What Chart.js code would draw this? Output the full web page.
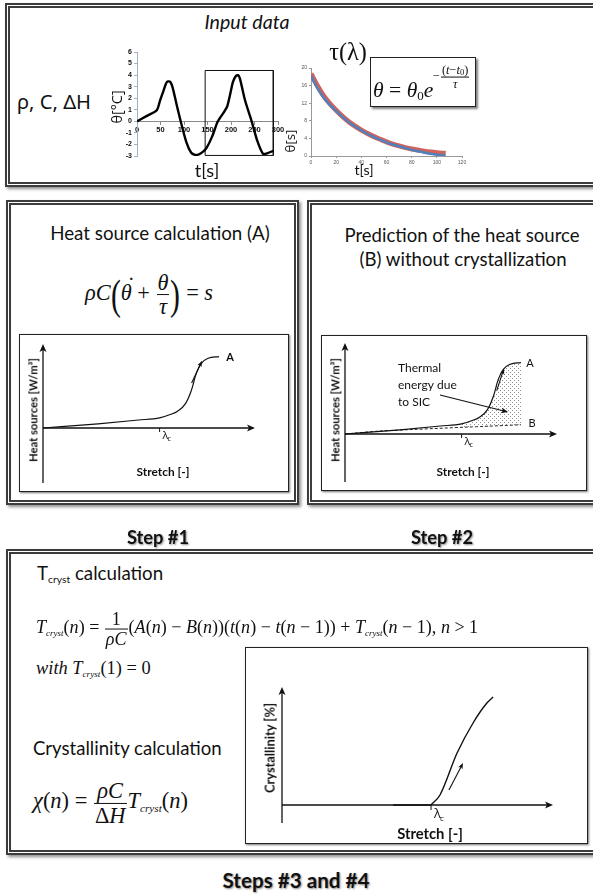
<!DOCTYPE html>
<html><head><meta charset="utf-8">
<script src="https://cdn.jsdelivr.net/npm/chart.js@4.4.1/dist/chart.umd.min.js"></script>
<style>
html,body{margin:0;padding:0;background:#fff;}
body{width:593px;height:894px;position:relative;overflow:hidden;font-family:Lato,"Noto Sans",sans-serif;color:#111;}
.box{position:absolute;border:5px double #3c3c3c;box-shadow:2px 2px 3px rgba(0,0,0,.45);box-sizing:border-box;background:#fff;}
.pane{position:absolute;border:1px solid #222;box-shadow:1px 1px 2px rgba(0,0,0,.55);background:#fff;box-sizing:border-box;}
.pane canvas{left:0;top:0;}
.c{position:absolute;transform:translate(-50%,-50%);white-space:nowrap;line-height:1;z-index:5;}
.l{position:absolute;transform:translateY(-50%);white-space:nowrap;line-height:1;z-index:5;}
.c.rot{transform:translate(-50%,-50%) rotate(-90deg);}
canvas{position:absolute;}
.m{font-family:"Liberation Serif","DejaVu Serif",serif;}
.m i{font-style:italic;}
.frac{display:inline-flex;flex-direction:column;vertical-align:middle;text-align:center;margin:0 1px;}
.frac>span{display:block;padding:0 1px;line-height:1.05;}
.frac>span:first-child{border-bottom:1px solid #111;}
.cr{font-size:0.5em;font-style:italic;vertical-align:-0.3em;line-height:0;}
.bp{display:inline-block;font-size:1.9em;vertical-align:middle;line-height:1;transform:scaleX(0.7);margin:0 -2px;}
.dotted{position:relative;display:inline-block;}
.dotted .dt{position:absolute;left:0.3em;top:-0.32em;font-style:normal;}
.step{font-weight:bold;text-shadow:1px 1px 2px rgba(0,0,0,.45);}
.ax{font-weight:bold;}
.fbox{position:absolute;left:370px;top:57px;width:106px;height:50px;border:1.5px solid #222;box-shadow:2px 2px 2px rgba(0,0,0,.5);background:#fff;box-sizing:border-box;z-index:4;}
</style>
</head>
<body>
<!-- frames -->
<div class="box" style="left:5px;top:3px;width:600px;height:184px;"></div>
<div class="box" style="left:6px;top:200px;width:293px;height:305px;"></div>
<div class="box" style="left:307px;top:200px;width:300px;height:305px;"></div>
<div class="box" style="left:6px;top:549px;width:600px;height:306px;"></div>

<!-- input data panel -->
<div class="c" data-w="85" style="left:247px;top:22px;font-size:18px;font-style:italic;">Input data</div>
<div class="c" data-w="74" style="left:54px;top:101px;font-size:21px;font-family:'Noto Sans','Open Sans',sans-serif;">ρ, C, ΔH</div>
<canvas id="c1" width="180" height="130" style="left:110px;top:40px;"></canvas>
<canvas id="c2" width="185" height="110" style="left:290px;top:60px;"></canvas>
<div class="c rot" data-w="33" style="left:117px;top:107px;font-size:14px;font-family:'Open Sans',sans-serif;">θ[°C]</div>
<div class="c" data-w="24" style="left:207px;top:170px;font-size:16px;">t[s]</div>
<div class="c rot" data-w="23" style="left:291px;top:141px;font-size:15px;font-family:'Open Sans',sans-serif;">θ[s]</div>
<div class="c" data-w="19" style="left:364px;top:170px;font-size:15px;">t[s]</div>
<div class="c m" data-w="38" style="left:348px;top:52px;font-size:23px;">τ(λ)</div>
<div class="fbox"></div>
<div class="l m" data-w="60" style="left:373px;top:91px;font-size:22px;"><i>θ</i> = <i>θ</i><sub style="font-size:0.6em;vertical-align:-0.25em;line-height:0">0</sub><i>e</i></div>
<div class="l m" data-w="37" style="left:433px;top:77px;font-size:12px;">−<span class="frac"><span>(<i>t</i>−<i>t</i><sub style="font-size:0.7em;vertical-align:-0.2em;line-height:0">0</sub>)</span><span><i>τ</i></span></span></div>

<!-- step 1 -->
<div class="c" data-w="220" style="left:160px;top:233px;font-size:18px;">Heat source calculation (A)</div>
<div class="c m" data-w="128" style="left:149px;top:295px;font-size:22px;"><i>ρC</i><span class="bp">(</span><span class="dotted"><i>θ</i><span class="dt">˙</span></span> + <span class="frac"><span><i>θ</i></span><span><i>τ</i></span></span><span class="bp">)</span> = <i>s</i></div>
<div class="pane" style="left:19px;top:334px;width:270px;height:158px;"><canvas id="s1"></canvas></div>
<div class="c rot ax" data-w="104" style="left:33px;top:410px;font-size:11px;">Heat sources [W/m³]</div>
<div class="c ax" data-w="53" style="left:163px;top:472px;font-size:11px;">Stretch [-]</div>
<div class="c step" data-w="62" style="left:158px;top:537px;font-size:18px;">Step #1</div>

<!-- step 2 -->
<div class="c" data-w="235" style="left:462px;top:235px;font-size:18px;">Prediction of the heat source</div>
<div class="c" data-w="207" style="left:463px;top:259px;font-size:18px;">(B) without crystallization</div>
<div class="pane" style="left:321px;top:335px;width:266px;height:156px;"><canvas id="s2"></canvas></div>
<div class="c rot ax" data-w="104" style="left:335px;top:410px;font-size:11px;">Heat sources [W/m³]</div>
<div class="c ax" data-w="53" style="left:463px;top:472px;font-size:11px;">Stretch [-]</div>
<div class="c step" data-w="62" style="left:442px;top:537px;font-size:18px;">Step #2</div>

<!-- steps 3 & 4 -->
<div class="l" data-w="126" style="left:37px;top:573px;font-size:18px;">T<sub style="font-size:0.55em;vertical-align:-0.3em;line-height:0">cryst</sub> calculation</div>
<div class="l m" data-w="442" style="left:36px;top:629px;font-size:20px;"><i>T</i><span class="cr">cryst</span>(<i>n</i>) = <span class="frac"><span>1</span><span><i>ρC</i></span></span>(<i>A</i>(<i>n</i>) − <i>B</i>(<i>n</i>))(<i>t</i>(<i>n</i>) − <i>t</i>(<i>n</i> − 1)) + <i>T</i><span class="cr">cryst</span>(<i>n</i> − 1), <i>n</i> &gt; 1</div>
<div class="l m" data-w="115" style="left:36px;top:668px;font-size:20px;"><i>with T</i><span class="cr">cryst</span>(1) = 0</div>
<div class="l" data-w="189" style="left:33px;top:748px;font-size:18px;">Crystallinity calculation</div>
<div class="l m" data-w="155" style="left:33px;top:803px;font-size:22px;"><i>χ</i>(<i>n</i>) = <span class="frac"><span><i>ρC</i></span><span>Δ<i>H</i></span></span><i>T</i><span class="cr">cryst</span>(<i>n</i>)</div>
<div class="pane" style="left:245px;top:647px;width:343px;height:197px;"><canvas id="s3"></canvas></div>
<div class="c rot ax" data-w="90" style="left:270px;top:748px;font-size:13px;">Crystallinity [%]</div>
<div class="c ax" data-w="66" style="left:430px;top:833px;font-size:13px;">Stretch [-]</div>
<div class="c step" data-w="147" style="left:296px;top:880px;font-size:18px;">Steps #3 and #4</div>

<script>
// ================= DATA =================
// Input data: temperature variation θ [°C] versus time t [s]
const inputTime  = [0, 20, 42, 49, 56, 62, 66, 71, 76, 84, 93, 105, 115, 123, 132, 140, 148, 160, 172, 185, 192, 198, 204, 210, 215, 219, 230, 244, 256, 268, 278, 290];
const inputTheta = [0, 0.45, 0.96, 1.8, 2.6, 3.3, 3.45, 3.4, 2.9, 1.5, 0, -1.8, -2.7, -2.9, -2.85, -2.65, -2.3, -1.3, 0, 0.8, 1.3, 2.3, 3.4, 3.9, 4.0, 3.7, 1.8, 0, -1.7, -2.8, -2.75, -2.55];
// highlighted window on the θ(t) record
const windowTime  = [145, 290];
const windowTheta = [-2.95, 4.4];
const thetaAxis = [-3, 6, 1];     // min, max, step
const timeAxis  = [0, 300, 50];

// Return to equilibrium: θ versus t, measured (blue) and exponential fit (red)
const decayTime     = [0, 5, 10, 15, 20, 25, 30, 35, 40, 45, 50, 55, 60, 65, 70, 75, 80, 85, 90, 95, 100, 107];
const decayMeasured = [18.3, 15.4, 13.3, 11.6, 10.2, 8.9, 7.7, 6.7, 5.8, 5.0, 4.3, 3.7, 3.1, 2.6, 2.2, 1.8, 1.4, 1.1, 0.8, 0.5, 0.3, 0.1];
const decayFit      = [18.7, 16.0, 13.7, 11.9, 10.4, 9.0, 7.8, 6.8, 5.9, 5.1, 4.4, 3.8, 3.2, 2.7, 2.3, 1.9, 1.6, 1.35, 1.1, 0.9, 0.75, 0.6];
const decayYAxis = [0, 20, 2];
const decayXAxis = [0, 120, 20];

// Schematic heat sources versus stretch (arbitrary units)
const stretchA = [0, 2.6, 4.5, 5.5, 6.0, 6.35, 6.72, 7.0, 7.23, 7.47, 7.79, 8.3];
const heatA    = [0, 0.5, 0.95, 1.2, 1.6, 2.0, 2.9, 4.5, 6.5, 7.7, 8.3, 8.5];
const stretchB = [0, 1.65, 8.3];
const heatB    = [0, 0.35, 1.1];
const lambdaC  = 5.5;

// Schematic crystallinity versus stretch
const stretchCryst  = [4.1, 5.46, 5.57, 5.83, 6.46, 7.05, 7.56, 7.79];
const crystallinity = [0, 0, 0.17, 0.85, 4.4, 6.95, 8.64, 9.15];

// ================= HELPERS =================
const pts = (xs, ys) => xs.map((x, i) => ({x, y: ys[i]}));
const base = {animation:false, responsive:false, devicePixelRatio:1, events:[],
  plugins:{legend:{display:false}, tooltip:{enabled:false}}};

function arrow(ctx, x1, y1, x2, y2, len, half){
  const a = Math.atan2(y2-y1, x2-x1), c = Math.cos(a), s = Math.sin(a);
  ctx.beginPath(); ctx.moveTo(x1, y1); ctx.lineTo(x2 - c*len*0.6, y2 - s*len*0.6); ctx.stroke();
  ctx.beginPath(); ctx.moveTo(x2, y2);
  ctx.lineTo(x2 - len*c + half*s, y2 - len*s - half*c);
  ctx.lineTo(x2 - len*c*0.75, y2 - len*s*0.75);
  ctx.lineTo(x2 - len*c - half*s, y2 - len*s + half*c);
  ctx.closePath(); ctx.fill();
}

const schematicPlugin = {
  id:'schematic',
  afterDatasetsDraw(chart, args, o){
    if (!o || !o.axes) return;
    const ctx = chart.ctx, X = v => chart.scales.x.getPixelForValue(v), Y = v => chart.scales.y.getPixelForValue(v);
    ctx.save();
    ctx.strokeStyle = '#111'; ctx.fillStyle = '#111'; ctx.lineWidth = 1.3;
    arrow(ctx, X(0), Y(o.axes[0]), X(0), Y(o.axes[1]), 8, 3.5);
    arrow(ctx, X(0), Y(0), X(o.axes[2]), Y(0), 8, 3.5);
    // λc tick + label
    ctx.lineWidth = 1;
    ctx.beginPath(); ctx.moveTo(X(lambdaC), Y(0)); ctx.lineTo(X(lambdaC), Y(0) + o.lam.tick); ctx.stroke();
    ctx.textBaseline = 'alphabetic'; ctx.textAlign = 'left';
    ctx.font = o.lam.size + 'px "Open Sans", "DejaVu Sans", sans-serif';
    const lx = X(lambdaC) + o.lam.dx, ly = Y(0) + o.lam.base;
    ctx.fillText('λ', lx, ly);
    const lw = ctx.measureText('λ').width;
    ctx.font = Math.round(o.lam.size*0.65) + 'px "Open Sans", sans-serif';
    ctx.fillText('c', lx + lw - 1, ly + o.lam.size*0.22);
    // little arrows
    ctx.lineWidth = 1.1;
    (o.arrows || []).forEach(a => arrow(ctx, X(a[0]), Y(a[1]), X(a[2]), Y(a[3]), a[4] || 6, a[5] || 2.5));
    // labels
    ctx.textBaseline = 'middle';
    (o.labels || []).forEach(L => { ctx.font = L.font; ctx.textAlign = L.align || 'center'; ctx.fillText(L.text, X(L.x), Y(L.y)); });
    ctx.restore();
  }
};

function schematic(id, g, datasets, deco){
  const cv = document.getElementById(id);
  cv.width = g.w; cv.height = g.h;
  return new Chart(cv, {type:'line', data:{datasets}, plugins:[schematicPlugin],
    options:Object.assign({}, base, {
      layout:{padding:0},
      plugins:{legend:{display:false}, tooltip:{enabled:false}, schematic:deco},
      scales:{
        x:{type:'linear', display:false, min:-g.ox/g.ux, max:(g.w-g.ox)/g.ux},
        y:{type:'linear', display:false, min:-(g.h-g.oy)/g.uy, max:g.oy/g.uy}
      }
    })});
}

function dotPattern(){
  const c = document.createElement('canvas'); c.width = 4; c.height = 4;
  const g = c.getContext('2d'); g.fillStyle = '#8c8c8c';
  g.fillRect(0, 0, 1, 1); g.fillRect(2, 2, 1, 1);
  return g.createPattern(c, 'repeat');
}

// ================= CHART 1: θ(t) =================
const rect = pts([windowTime[0], windowTime[0], windowTime[1], windowTime[1], windowTime[0]],
                 [windowTheta[0], windowTheta[1], windowTheta[1], windowTheta[0], windowTheta[0]]);
new Chart(document.getElementById('c1'), {type:'line',
  data:{datasets:[
    {data:pts(inputTime, inputTheta), borderColor:'#000', borderWidth:2.4, pointRadius:0, tension:0.25},
    {data:rect, borderColor:'#111', borderWidth:1, pointRadius:0, tension:0}
  ]},
  options:Object.assign({}, base, {
    layout:{padding:{left:10, top:12, right:12, bottom:14}},
    scales:{
      x:{type:'linear', position:{y:0}, min:timeAxis[0], max:timeAxis[1],
         ticks:{stepSize:timeAxis[2], autoSkip:false, maxRotation:0, padding:1, color:'#111', font:{size:7.5, weight:'bold', family:'"Liberation Sans", Arial'}},
         grid:{drawOnChartArea:false, tickLength:3, color:'#8a8a8a'}, border:{color:'#8a8a8a'},
         afterFit(s){ s.height = 0; }},
      y:{type:'linear', min:thetaAxis[0], max:thetaAxis[1],
         ticks:{stepSize:thetaAxis[2], padding:2, color:'#111', font:{size:7, weight:'bold', family:'"Liberation Sans", Arial'}},
         grid:{drawOnChartArea:false, tickLength:3, color:'#9fb0c8'}, border:{color:'#9fb0c8'},
         afterFit(s){ s.width = 17; }}
    }
  })});

// ================= CHART 2: decay =================
new Chart(document.getElementById('c2'), {type:'line',
  data:{datasets:[
    {data:pts(decayTime, decayMeasured), borderColor:'#4f81bd', borderWidth:2.5, pointRadius:0, tension:0.3},
    {data:pts(decayTime, decayFit), borderColor:'#d0625c', borderWidth:5, pointRadius:0, tension:0.3}
  ]},
  options:Object.assign({}, base, {
    layout:{padding:{left:4, top:8, right:13, bottom:6}},
    scales:{
      x:{type:'linear', min:decayXAxis[0], max:decayXAxis[1],
         ticks:{stepSize:decayXAxis[2], autoSkip:false, maxRotation:0, padding:2, color:'#555', font:{size:5, family:'"Liberation Sans", Arial'}},
         grid:{drawOnChartArea:false, tickLength:2, color:'#999'}, border:{color:'#999'},
         afterFit(s){ s.height = 8; }},
      y:{type:'linear', min:decayYAxis[0], max:decayYAxis[1],
         ticks:{stepSize:decayYAxis[2], padding:2, color:'#555', font:{size:5, family:'"Liberation Sans", Arial'}},
         grid:{drawOnChartArea:false, tickLength:2, color:'#999'}, border:{color:'#999'},
         afterFit(s){ s.width = 17; }}
    }
  })});

// ================= SCHEMATICS =================
const lineA = () => ({data:pts(stretchA, heatA), borderColor:'#111', borderWidth:1.2, pointRadius:0, cubicInterpolationMode:'monotone', fill:false});
const iC = stretchA.findIndex(v => v >= lambdaC);

schematic('s1', {w:268, h:156, ox:23, oy:93, ux:21.2, uy:8.4}, [lineA()], {
  axes:[-6.55, 10, 10],
  lam:{tick:4, dx:3, base:11, size:11},
  arrows:[[7.01, 5.36, 7.5, 8.0, 6, 2.2]],
  labels:[{text:'A', x:8.82, y:8.45, font:'bold 11px Lato, sans-serif'}]
});

schematic('s2', {w:264, h:154, ox:23, oy:98, ux:21.2, uy:8.4}, [
  lineA(),
  {data:pts(stretchA.slice(iC), heatA.slice(iC)), borderWidth:0, borderColor:'rgba(0,0,0,0)', pointRadius:0,
   cubicInterpolationMode:'monotone', fill:2, backgroundColor:dotPattern()},
  {data:pts(stretchB, heatB), borderColor:'#222', borderWidth:1, borderDash:[3,2], pointRadius:0, tension:0.2, fill:false}
], {
  axes:[-5.7, 10.83, 10],
  lam:{tick:4, dx:3, base:11, size:11},
  arrows:[[7.16, 5.2, 7.5, 7.8, 6, 2.2], [4.48, 4.64, 7.69, 2.62, 7, 3]],
  labels:[
    {text:'A', x:8.73, y:8.45, font:'11px Lato, sans-serif'},
    {text:'B', x:8.82, y:1.3, font:'11px Lato, sans-serif'},
    {text:'Thermal', x:2.5, y:7.86, font:'12px Lato, sans-serif', align:'left'},
    {text:'energy due', x:2.5, y:5.83, font:'12px Lato, sans-serif', align:'left'},
    {text:'to SIC', x:2.5, y:3.81, font:'12px Lato, sans-serif', align:'left'}
  ]
});

schematic('s3', {w:341, h:195, ox:36, oy:157, ux:27.1, uy:11.8}, [
  {data:pts(stretchCryst, crystallinity), borderColor:'#111', borderWidth:1.4, pointRadius:0, cubicInterpolationMode:'monotone', fill:false}
], {
  axes:[-1.53, 10, 10],
  lam:{tick:5, dx:3, base:13, size:13},
  arrows:[[6.16, 1.27, 6.68, 3.56, 6, 2.4]],
  labels:[]
});

// ================= TEXT FITTING =================
function fitText(){
  document.querySelectorAll('[data-w]').forEach(el => {
    const target = +el.dataset.w;
    for (let i = 0; i < 3; i++){
      const w = el.offsetWidth; if (!w) break;
      const fs = parseFloat(getComputedStyle(el).fontSize);
      el.style.fontSize = (fs * target / w) + 'px';
    }
  });
}
fitText();
if (document.fonts && document.fonts.ready) document.fonts.ready.then(fitText);
</script>
</body></html>
